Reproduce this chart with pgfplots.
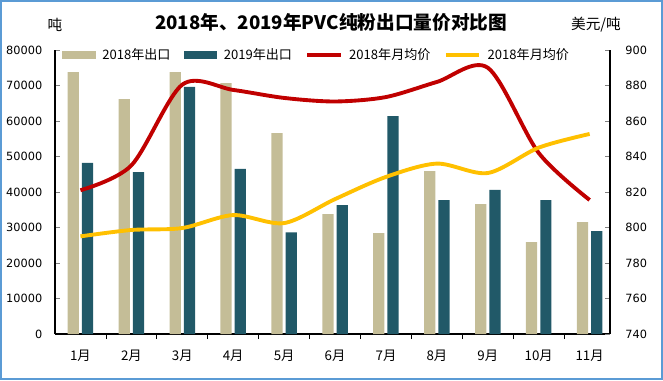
\documentclass[border=0pt]{standalone}
\usepackage{fontspec}
\usepackage{pgfplots}
\pgfplotsset{compat=1.18}
\setmainfont{DejaVu Sans}
\newfontfamily\cjk{Noto Sans CJK SC}
\definecolor{tanbar}{HTML}{C4BD97}
\definecolor{tealbar}{HTML}{215968}
\definecolor{redline}{HTML}{C00000}
\definecolor{yelline}{HTML}{FFC000}
\definecolor{frame}{HTML}{5B9BD5}
\begin{document}
\begin{tikzpicture}
\useasboundingbox (0,0) rectangle (497.25pt,285pt);
\draw[frame, line width=1.2pt] (0.6pt,0.6pt) rectangle (496.65pt,284.4pt);
\node[font=\cjk\bfseries\fontsize{14}{16}\selectfont] at (248.25pt,268.5pt) {2018年、2019年PVC纯粉出口量价对比图};
\node[font=\cjk\fontsize{11}{13}\selectfont] at (41.25pt,266.25pt) {吨};
\node[font=\cjk\fontsize{11}{13}\selectfont] at (447pt,266.25pt) {美元/吨};
\begin{axis}[
  at={(41.25pt,34.5pt)}, anchor=south west,
  scale only axis, width=416.25pt, height=213pt,
  xmin=-0.5, xmax=10.4, ymin=0, ymax=80000,
  axis x line*=bottom, axis y line*=left,
  axis line style={line width=0.8pt, -},
  tick align=inside,
  ytick={0,10000,...,80000},
  scaled y ticks=false,
  /pgf/number format/assume math mode=true,
  yticklabel={\pgfmathprintnumber[fixed,1000 sep={}]{\tick}},
  yticklabel style={font=\fontsize{8.5}{10}\selectfont, xshift=-6pt},
  major tick length=3.75pt,
  xtick={0,...,10},
  xticklabels={1月,2月,3月,4月,5月,6月,7月,8月,9月,10月,11月},
  xticklabel style={font=\cjk\fontsize{10}{12}\selectfont, yshift=-5pt},
  x tick style={draw=none},
  minor xtick={0.5,1.5,...,9.5},
  minor x tick style={draw=black, line width=0.6pt},
  minor tick length=3.75pt,
  y tick style={line width=0.6pt},
  ybar, bar width=0.22,
  clip=false,
]
\addplot[fill=tanbar, draw=none, bar shift=-0.14] coordinates {
(0,73800) (1,66200) (2,73800) (3,70700) (4,56600) (5,33800) (6,28400) (7,45900) (8,36600) (9,25900) (10,31500)};
\addplot[fill=tealbar, draw=none, bar shift=0.14] coordinates {
(0,48200) (1,45600) (2,69600) (3,46500) (4,28600) (5,36300) (6,61400) (7,37700) (8,40600) (9,37700) (10,29000)};
\end{axis}
\begin{axis}[
  at={(41.25pt,34.5pt)}, anchor=south west,
  scale only axis, width=416.25pt, height=213pt,
  xmin=-0.5, xmax=10.4, ymin=740, ymax=900,
  axis x line=none, axis y line*=right,
  axis line style={line width=0.8pt, -},
  tick align=inside,
  ytick={740,760,...,900},
  /pgf/number format/assume math mode=true,
  yticklabel style={font=\fontsize{8.5}{10}\selectfont, xshift=8pt},
  major tick length=3.75pt,
  y tick style={line width=0.6pt},
  legend columns=4,
  legend style={draw=none, fill=none, at={(rel axis cs:0.472,0.982)}, anchor=center,
    font=\cjk\fontsize{9.8}{12}\selectfont, inner sep=1pt,
    /tikz/every even column/.append style={column sep=8pt},
    /tikz/every odd column/.append style={column sep=3pt}},
  legend image code/.code={\draw[#1] (0pt,0pt) -- (25pt,0pt);},
]
\addlegendimage{area legend, fill=tanbar, draw=none, legend image code/.code={\fill[tanbar] (0pt,-3pt) rectangle (25pt,3pt);}}
\addlegendentry{2018年出口}
\addlegendimage{area legend, fill=tealbar, draw=none, legend image code/.code={\fill[tealbar] (0pt,-3pt) rectangle (25pt,3pt);}}
\addlegendentry{2019年出口}
\addplot[redline, line width=2.9pt, smooth, tension=0.5] coordinates {
(0,821) (1,835) (2,880.5) (3,877.5) (4,873) (5,871) (6,873.5) (7,882) (8,890) (9,842) (10,815.5)};
\addlegendentry{2018年月均价}
\addplot[yelline, line width=2.9pt, smooth, tension=0.5] coordinates {
(0,795) (1,798.6) (2,799.7) (3,807) (4,802.5) (5,816) (6,828.5) (7,836) (8,830.7) (9,845) (10,852.7)};
\addlegendentry{2018年月均价}
\end{axis}
\end{tikzpicture}
\end{document}
